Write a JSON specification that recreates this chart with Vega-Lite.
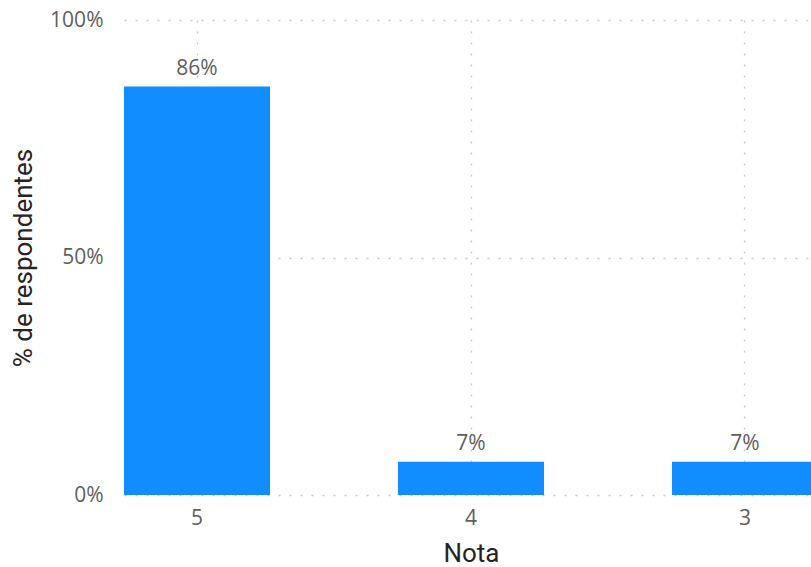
{
  "$schema": "https://vega.github.io/schema/vega-lite/v6.json",
  "autosize": {"type": "none"},
  "width": 687,
  "height": 475,
  "padding": {"left": 124, "top": 20, "right": 0, "bottom": 72},
  "background": "white",
  "data": {"values": [
    {"Nota": "5", "pct": 0.86},
    {"Nota": "4", "pct": 0.07},
    {"Nota": "3", "pct": 0.07}
  ]},
  "config": {
    "view": {"stroke": null},
    "font": "Open Sans"
  },
  "encoding": {
    "x": {
      "field": "Nota", "type": "nominal", "sort": ["5", "4", "3"],
      "scale": {"range": [0, 694], "paddingInner": 0.467, "paddingOuter": 0},
      "axis": {
        "title": "Nota", "labelAngle": 0, "labelFont": "Open Sans", "labelFontSize": 21,
        "labelColor": "#605E5C", "labelPadding": 12, "ticks": false, "domain": false,
        "grid": true, "gridDash": [2, 9], "gridColor": "#C8C8C8", "gridWidth": 1.3,
        "bandPosition": 0.5,
        "titleFont": "Roboto", "titleFontSize": 26, "titleFontWeight": "normal",
        "titleColor": "#252423", "titlePadding": 12
      }
    }
  },
  "layer": [
    {
      "mark": {"type": "bar", "color": "#118DFF"},
      "encoding": {
        "y": {
          "field": "pct", "type": "quantitative",
          "scale": {"domain": [0, 1], "nice": false},
          "axis": {
            "title": "% de respondentes", "values": [0, 0.5, 1], "format": ".0%",
            "labelFont": "Open Sans", "labelFontSize": 21, "labelColor": "#605E5C",
            "labelPadding": 21, "ticks": false, "domain": false,
            "grid": true, "gridDash": [2, 9], "gridColor": "#C8C8C8", "gridWidth": 1.3,
            "titleFont": "Roboto", "titleFontSize": 26, "titleFontWeight": "normal",
            "titleColor": "#252423", "titlePadding": 13
          }
        }
      }
    },
    {
      "mark": {"type": "text", "baseline": "alphabetic", "dy": -12, "font": "Open Sans", "fontSize": 21, "color": "#605E5C"},
      "encoding": {
        "y": {"field": "pct", "type": "quantitative"},
        "text": {"field": "pct", "type": "quantitative", "format": ".0%"}
      }
    }
  ]
}
